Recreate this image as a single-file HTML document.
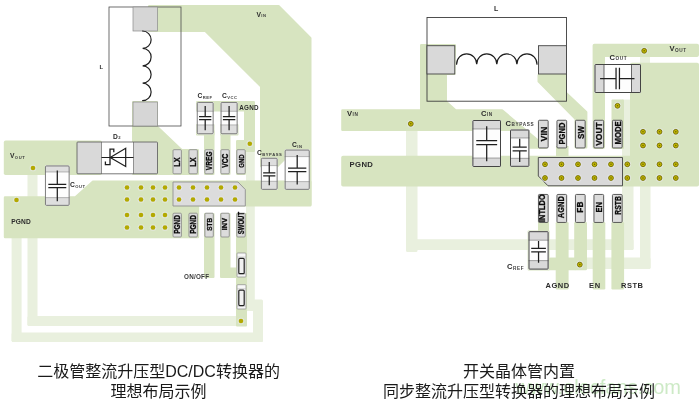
<!DOCTYPE html>
<html lang="zh-CN">
<head>
<meta charset="utf-8">
<title>升压型转换器的理想布局示例</title>
<style>
html,body{margin:0;padding:0;background:#fff;}
body{width:700px;height:404px;overflow:hidden;position:relative;font-family:"Liberation Sans","Noto Sans CJK SC",sans-serif;}
svg{position:absolute;left:0;top:0;display:block;will-change:transform;opacity:0.999;font-family:"Liberation Sans","Noto Sans CJK SC",sans-serif;}
.cap{position:absolute;font-size:16px;line-height:20px;color:#1a1a1a;text-align:center;white-space:nowrap;font-family:"Liberation Sans","Noto Sans CJK SC",sans-serif;}
.wm{position:absolute;right:19px;top:375px;font-size:20px;line-height:24px;color:#cdeac6;white-space:nowrap;}
</style>
</head>
<body>
<svg width="700" height="404" viewBox="0 0 700 404">
<rect x="11.6" y="236" width="10" height="106" fill="#e9f0de" rx="1.5"/>
<rect x="11.6" y="332.5" width="251.4" height="9.5" fill="#e9f0de" rx="1.5"/>
<rect x="253" y="299.5" width="10" height="42.5" fill="#e9f0de" rx="1.5"/>
<rect x="246" y="148" width="8.8" height="163" fill="#e9f0de"/>
<rect x="27.5" y="172" width="10" height="154" fill="#e9f0de" rx="1.5"/>
<rect x="27.5" y="316" width="210.5" height="10" fill="#e9f0de" rx="1.5"/>
<polygon points="149.20,6.20 278.50,6.20 310.30,38.00 310.30,204.80 301.20,204.80 301.20,170.80 286.20,170.80 286.20,157.10 277.00,166.30 261.20,166.30 261.20,86.50 205.50,30.80 149.20,30.80" fill="#d7e4c0" stroke="#d7e4c0" stroke-width="2.4" stroke-linejoin="round"/>
<polygon points="5.00,197.40 75.46,197.40 92.76,181.80 310.30,181.80 310.30,205.20 198.00,205.20 198.00,237.10 5.00,237.10" fill="#d7e4c0" stroke="#d7e4c0" stroke-width="2.4" stroke-linejoin="round"/>
<rect x="3.8" y="140.6" width="98.2" height="34.4" fill="#d7e4c0" rx="1.8"/>
<polygon points="133.20,102.20 156.80,102.20 156.80,126.51 181.52,150.20 197.80,150.20 197.80,173.80 133.20,173.80" fill="#d7e4c0" stroke="#d7e4c0" stroke-width="2.4" stroke-linejoin="round"/>
<polygon points="197.20,102.20 253.80,102.20 253.80,150.80 244.80,150.80 244.80,173.80 237.20,173.80 237.20,141.20 245.20,141.20 245.20,110.30 197.20,110.30" fill="#d7e4c0" stroke="#d7e4c0" stroke-width="2.4" stroke-linejoin="round"/>
<rect x="204" y="130" width="10.5" height="45" fill="#d7e4c0" rx="1"/>
<rect x="220.5" y="130" width="10" height="45" fill="#d7e4c0" rx="1"/>
<rect x="196" y="124" width="18.5" height="11.5" fill="#d7e4c0" rx="1"/>
<rect x="220" y="124" width="18.5" height="11.5" fill="#d7e4c0" rx="1"/>
<rect x="204" y="213" width="10.5" height="65" fill="#d7e4c0" rx="1"/>
<rect x="220" y="213" width="10.5" height="65" fill="#d7e4c0" rx="1"/>
<rect x="228" y="267.5" width="10" height="10.5" fill="#d7e4c0" rx="1"/>
<rect x="236" y="213" width="11" height="113.5" fill="#d7e4c0" rx="1"/>
<rect x="109" y="7" width="72" height="119" fill="none" stroke="#4c4c4c" stroke-width="0.8"/>
<rect x="133" y="7" width="24.5" height="24" fill="#d6d6d6" stroke="#8a8a8a" stroke-width="0.7"/>
<rect x="133" y="102" width="24.5" height="24" fill="#d6d6d6" stroke="#8a8a8a" stroke-width="0.7"/>
<path d="M142.6 31a8.526 8.7 0 0 1 0 17.4a8.526 8.7 0 0 1 0 17.4a8.526 8.7 0 0 1 0 17.4a8.526 8.7 0 0 1 0 17.4" fill="none" stroke="#1e1e1e" stroke-width="1.2" stroke-linecap="round"/>
<rect x="77" y="142" width="80.5" height="31.8" fill="#ffffff" rx="0.8"/>
<rect x="77" y="142" width="24.5" height="31.8" fill="#d9d9d9"/>
<rect x="133.5" y="142" width="24" height="31.8" fill="#d9d9d9"/>
<rect x="77" y="142" width="80.5" height="31.8" fill="none" rx="0.8" stroke="#555" stroke-width="0.8"/>
<path d="M101.5 142V173.8M133.5 142V173.8" stroke="#555" stroke-width="0.6"/>
<path d="M101.5 157.5H133.5" stroke="#1e1e1e" stroke-width="1.2"/>
<path d="M125.7 148.3V166.5L110.2 157.5Z" fill="none" stroke="#1e1e1e" stroke-width="1.2" stroke-linejoin="miter"/>
<path d="M113.8 152.2V149.2H110V164.6H105.4V161.4" fill="none" stroke="#1e1e1e" stroke-width="1.3"/>
<rect x="196.8" y="102" width="16.8" height="32.2" fill="#fdfdfd" rx="1"/>
<rect x="196.8" y="102" width="16.8" height="9.3" fill="#dedede" rx="1"/>
<rect x="196.8" y="124.9" width="16.8" height="9.3" fill="#dedede" rx="1"/>
<path d="M196.8 111.3H213.6M196.8 124.9H213.6" stroke="#6e6e6e" stroke-opacity="0.75" stroke-width="0.6" fill="none"/>
<rect x="197.25" y="102.45" width="15.9" height="31.3" fill="none" rx="1" stroke="#6e6e6e" stroke-width="0.9"/>
<path d="M205.2 106V116.5M205.2 119.5V130.2M199.068 116.5H211.332M199.068 119.5H211.332" stroke="#1e1e1e" stroke-width="1.25" fill="none"/>
<rect x="220.6" y="102" width="17" height="32.2" fill="#fdfdfd" rx="1"/>
<rect x="220.6" y="102" width="17" height="9.3" fill="#dedede" rx="1"/>
<rect x="220.6" y="124.9" width="17" height="9.3" fill="#dedede" rx="1"/>
<path d="M220.6 111.3H237.6M220.6 124.9H237.6" stroke="#6e6e6e" stroke-opacity="0.75" stroke-width="0.6" fill="none"/>
<rect x="221.05" y="102.45" width="16.1" height="31.3" fill="none" rx="1" stroke="#6e6e6e" stroke-width="0.9"/>
<path d="M229.1 106V116.5M229.1 119.5V130.2M222.895 116.5H235.305M222.895 119.5H235.305" stroke="#1e1e1e" stroke-width="1.25" fill="none"/>
<rect x="260.9" y="157.8" width="16.7" height="32" fill="#fdfdfd" rx="1"/>
<rect x="260.9" y="157.8" width="16.7" height="7.8" fill="#dedede" rx="1"/>
<rect x="260.9" y="181.3" width="16.7" height="8.5" fill="#dedede" rx="1"/>
<path d="M260.9 165.6H277.6M260.9 181.3H277.6" stroke="#6e6e6e" stroke-opacity="0.75" stroke-width="0.6" fill="none"/>
<rect x="261.35" y="158.25" width="15.8" height="31.1" fill="none" rx="1" stroke="#6e6e6e" stroke-width="0.9"/>
<path d="M269.25 162V172.85M269.25 175.75V185.3M263.154 172.85H275.346M263.154 175.75H275.346" stroke="#1e1e1e" stroke-width="1.25" fill="none"/>
<rect x="284.7" y="149.6" width="25" height="40.2" fill="#fdfdfd" rx="1"/>
<rect x="284.7" y="149.6" width="25" height="7" fill="#dedede" rx="1"/>
<rect x="284.7" y="181.6" width="25" height="8.2" fill="#dedede" rx="1"/>
<path d="M284.7 156.6H309.7M284.7 181.6H309.7" stroke="#6e6e6e" stroke-opacity="0.75" stroke-width="0.6" fill="none"/>
<rect x="285.15" y="150.05" width="24.1" height="39.3" fill="none" rx="1" stroke="#6e6e6e" stroke-width="0.9"/>
<path d="M297.2 154.9V168.2M297.2 171.6V184.6M288.075 168.2H306.325M288.075 171.6H306.325" stroke="#1e1e1e" stroke-width="1.25" fill="none"/>
<rect x="45" y="165.5" width="24.6" height="40.3" fill="#fdfdfd" rx="1"/>
<rect x="45" y="165.5" width="24.6" height="6.5" fill="#dedede" rx="1"/>
<rect x="45" y="197.6" width="24.6" height="8.2" fill="#dedede" rx="1"/>
<path d="M45 172H69.6M45 197.6H69.6" stroke="#6e6e6e" stroke-opacity="0.75" stroke-width="0.6" fill="none"/>
<rect x="45.45" y="165.95" width="23.7" height="39.4" fill="none" rx="1" stroke="#6e6e6e" stroke-width="0.9"/>
<path d="M57.3 170.5V184.25M57.3 187.55V201.2M48.321 184.25H66.279M48.321 187.55H66.279" stroke="#1e1e1e" stroke-width="1.25" fill="none"/>
<polygon points="173.00,182.00 238.00,182.00 245.30,189.50 245.30,206.00 173.00,206.00" fill="#dcdcdc" stroke="#909090" stroke-width="0.9" stroke-linejoin="round"/>
<circle cx="179" cy="187.5" r="3.5" fill="#e9e9ee" opacity="0.5"/>
<circle cx="179" cy="187.5" r="2.3" fill="#b3a900"/>
<circle cx="179" cy="199.5" r="3.5" fill="#e9e9ee" opacity="0.5"/>
<circle cx="179" cy="199.5" r="2.3" fill="#b3a900"/>
<circle cx="193" cy="187.5" r="3.5" fill="#e9e9ee" opacity="0.5"/>
<circle cx="193" cy="187.5" r="2.3" fill="#b3a900"/>
<circle cx="193" cy="199.5" r="3.5" fill="#e9e9ee" opacity="0.5"/>
<circle cx="193" cy="199.5" r="2.3" fill="#b3a900"/>
<circle cx="207" cy="187.5" r="3.5" fill="#e9e9ee" opacity="0.5"/>
<circle cx="207" cy="187.5" r="2.3" fill="#b3a900"/>
<circle cx="207" cy="199.5" r="3.5" fill="#e9e9ee" opacity="0.5"/>
<circle cx="207" cy="199.5" r="2.3" fill="#b3a900"/>
<circle cx="221" cy="187.5" r="3.5" fill="#e9e9ee" opacity="0.5"/>
<circle cx="221" cy="187.5" r="2.3" fill="#b3a900"/>
<circle cx="221" cy="199.5" r="3.5" fill="#e9e9ee" opacity="0.5"/>
<circle cx="221" cy="199.5" r="2.3" fill="#b3a900"/>
<circle cx="235" cy="187.5" r="3.5" fill="#e9e9ee" opacity="0.5"/>
<circle cx="235" cy="187.5" r="2.3" fill="#b3a900"/>
<circle cx="235" cy="199.5" r="3.5" fill="#e9e9ee" opacity="0.5"/>
<circle cx="235" cy="199.5" r="2.3" fill="#b3a900"/>
<circle cx="127" cy="187.5" r="3.5" fill="#e9e9ee" opacity="0.5"/>
<circle cx="127" cy="187.5" r="2.3" fill="#b3a900"/>
<circle cx="127" cy="199.5" r="3.5" fill="#e9e9ee" opacity="0.5"/>
<circle cx="127" cy="199.5" r="2.3" fill="#b3a900"/>
<circle cx="127" cy="215" r="3.5" fill="#e9e9ee" opacity="0.5"/>
<circle cx="127" cy="215" r="2.3" fill="#b3a900"/>
<circle cx="127" cy="227.5" r="3.5" fill="#e9e9ee" opacity="0.5"/>
<circle cx="127" cy="227.5" r="2.3" fill="#b3a900"/>
<circle cx="141" cy="187.5" r="3.5" fill="#e9e9ee" opacity="0.5"/>
<circle cx="141" cy="187.5" r="2.3" fill="#b3a900"/>
<circle cx="141" cy="199.5" r="3.5" fill="#e9e9ee" opacity="0.5"/>
<circle cx="141" cy="199.5" r="2.3" fill="#b3a900"/>
<circle cx="141" cy="215" r="3.5" fill="#e9e9ee" opacity="0.5"/>
<circle cx="141" cy="215" r="2.3" fill="#b3a900"/>
<circle cx="141" cy="227.5" r="3.5" fill="#e9e9ee" opacity="0.5"/>
<circle cx="141" cy="227.5" r="2.3" fill="#b3a900"/>
<circle cx="153" cy="187.5" r="3.5" fill="#e9e9ee" opacity="0.5"/>
<circle cx="153" cy="187.5" r="2.3" fill="#b3a900"/>
<circle cx="153" cy="199.5" r="3.5" fill="#e9e9ee" opacity="0.5"/>
<circle cx="153" cy="199.5" r="2.3" fill="#b3a900"/>
<circle cx="153" cy="215" r="3.5" fill="#e9e9ee" opacity="0.5"/>
<circle cx="153" cy="215" r="2.3" fill="#b3a900"/>
<circle cx="153" cy="227.5" r="3.5" fill="#e9e9ee" opacity="0.5"/>
<circle cx="153" cy="227.5" r="2.3" fill="#b3a900"/>
<circle cx="165" cy="187.5" r="3.5" fill="#e9e9ee" opacity="0.5"/>
<circle cx="165" cy="187.5" r="2.3" fill="#b3a900"/>
<circle cx="165" cy="199.5" r="3.5" fill="#e9e9ee" opacity="0.5"/>
<circle cx="165" cy="199.5" r="2.3" fill="#b3a900"/>
<circle cx="165" cy="215" r="3.5" fill="#e9e9ee" opacity="0.5"/>
<circle cx="165" cy="215" r="2.3" fill="#b3a900"/>
<circle cx="165" cy="227.5" r="3.5" fill="#e9e9ee" opacity="0.5"/>
<circle cx="165" cy="227.5" r="2.3" fill="#b3a900"/>
<circle cx="33" cy="168" r="3.5" fill="#e9e9ee" opacity="0.5"/>
<circle cx="33" cy="168" r="2.3" fill="#b3a900"/>
<circle cx="16.5" cy="200" r="3.5" fill="#e9e9ee" opacity="0.5"/>
<circle cx="16.5" cy="200" r="2.3" fill="#b3a900"/>
<circle cx="249.8" cy="143.8" r="3.5" fill="#e9e9ee" opacity="0.5"/>
<circle cx="249.8" cy="143.8" r="2.3" fill="#b3a900"/>
<circle cx="241" cy="321" r="3.5" fill="#e9e9ee" opacity="0.5"/>
<circle cx="241" cy="321" r="2.3" fill="#b3a900"/>
<rect x="173" y="149.7" width="8.4" height="24.1" fill="#dcdcdc" rx="1" stroke="#858585" stroke-width="0.8"/>
<text transform="translate(180.243,162.05) rotate(-90)" font-size="8.5" font-weight="bold" text-anchor="middle" textLength="9.3" lengthAdjust="spacingAndGlyphs" fill="#0c0c0c" stroke="#0c0c0c" stroke-width="0.3" stroke-linejoin="round">LX</text>
<rect x="188.95" y="149.7" width="8.4" height="24.1" fill="#dcdcdc" rx="1" stroke="#858585" stroke-width="0.8"/>
<text transform="translate(196.193,162.05) rotate(-90)" font-size="8.5" font-weight="bold" text-anchor="middle" textLength="9.3" lengthAdjust="spacingAndGlyphs" fill="#0c0c0c" stroke="#0c0c0c" stroke-width="0.3" stroke-linejoin="round">LX</text>
<rect x="204.9" y="149.7" width="8.4" height="24.1" fill="#dcdcdc" rx="1" stroke="#858585" stroke-width="0.8"/>
<text transform="translate(212.322,160.75) rotate(-90)" font-size="9" font-weight="bold" text-anchor="middle" textLength="18.8" lengthAdjust="spacingAndGlyphs" fill="#0c0c0c" stroke="#0c0c0c" stroke-width="0.3" stroke-linejoin="round">VREG</text>
<rect x="220.85" y="149.7" width="8.4" height="24.1" fill="#dcdcdc" rx="1" stroke="#858585" stroke-width="0.8"/>
<text transform="translate(227.986,160.75) rotate(-90)" font-size="8.2" font-weight="bold" text-anchor="middle" textLength="14" lengthAdjust="spacingAndGlyphs" fill="#0c0c0c" stroke="#0c0c0c" stroke-width="0.3" stroke-linejoin="round">VCC</text>
<rect x="236.8" y="149.7" width="8.4" height="24.1" fill="#dcdcdc" rx="1" stroke="#858585" stroke-width="0.8"/>
<text transform="translate(243.864,161.05) rotate(-90)" font-size="8" font-weight="bold" text-anchor="middle" textLength="13.3" lengthAdjust="spacingAndGlyphs" fill="#0c0c0c" stroke="#0c0c0c" stroke-width="0.3" stroke-linejoin="round">GND</text>
<rect x="173" y="213.2" width="8.4" height="23.8" fill="#dcdcdc" rx="1" stroke="#858585" stroke-width="0.8"/>
<text transform="translate(180.243,224.4) rotate(-90)" font-size="8.5" font-weight="bold" text-anchor="middle" textLength="18.8" lengthAdjust="spacingAndGlyphs" fill="#0c0c0c" stroke="#0c0c0c" stroke-width="0.3" stroke-linejoin="round">PGND</text>
<rect x="188.95" y="213.2" width="8.4" height="23.8" fill="#dcdcdc" rx="1" stroke="#858585" stroke-width="0.8"/>
<text transform="translate(196.193,224.4) rotate(-90)" font-size="8.5" font-weight="bold" text-anchor="middle" textLength="18.8" lengthAdjust="spacingAndGlyphs" fill="#0c0c0c" stroke="#0c0c0c" stroke-width="0.3" stroke-linejoin="round">PGND</text>
<rect x="204.9" y="213.2" width="8.4" height="23.8" fill="#dcdcdc" rx="1" stroke="#858585" stroke-width="0.8"/>
<text transform="translate(211.606,224.4) rotate(-90)" font-size="7" font-weight="bold" text-anchor="middle" textLength="12.8" lengthAdjust="spacingAndGlyphs" fill="#0c0c0c" stroke="#0c0c0c" stroke-width="0.3" stroke-linejoin="round">STB</text>
<rect x="220.85" y="213.2" width="8.4" height="23.8" fill="#dcdcdc" rx="1" stroke="#858585" stroke-width="0.8"/>
<text transform="translate(227.484,224.1) rotate(-90)" font-size="6.8" font-weight="bold" text-anchor="middle" textLength="12.3" lengthAdjust="spacingAndGlyphs" fill="#0c0c0c" stroke="#0c0c0c" stroke-width="0.3" stroke-linejoin="round">INV</text>
<rect x="236.8" y="213.2" width="8.4" height="23.8" fill="#dcdcdc" rx="1" stroke="#858585" stroke-width="0.8"/>
<text transform="translate(243.936,223.1) rotate(-90)" font-size="8.2" font-weight="bold" text-anchor="middle" textLength="22.3" lengthAdjust="spacingAndGlyphs" fill="#0c0c0c" stroke="#0c0c0c" stroke-width="0.3" stroke-linejoin="round">SWOUT</text>
<rect x="237" y="253" width="9" height="24" fill="#f7f7f7" rx="0.8" stroke="#8a8a8a" stroke-width="0.7"/>
<path d="M237 257.08H246M237 274.12H246" stroke="#aaa" stroke-width="0.5"/>
<rect x="238.8" y="258.28" width="5.4" height="15.36" fill="#f1f1f1" rx="1" stroke="#222" stroke-width="1.2"/>
<rect x="237" y="284.7" width="9" height="24.3" fill="#f7f7f7" rx="0.8" stroke="#8a8a8a" stroke-width="0.7"/>
<path d="M237 288.831H246M237 306.084H246" stroke="#aaa" stroke-width="0.5"/>
<rect x="238.8" y="290.046" width="5.4" height="15.552" fill="#f1f1f1" rx="1" stroke="#222" stroke-width="1.2"/>
<text x="99.5" y="69" font-size="6" font-weight="bold" fill="#2b2b2b" text-anchor="start" letter-spacing="0.2">L</text>
<text x="256.5" y="16.5" font-size="6.7" font-weight="bold" fill="#2b2b2b" text-anchor="start" letter-spacing="0.2">V<tspan font-size="4.154" dy="0.536" dx="0.2" font-weight="bold" fill="#3c3c3c" letter-spacing="0.5695">IN</tspan></text>
<text x="113" y="138.5" font-size="6.7" font-weight="bold" fill="#2b2b2b" text-anchor="start" letter-spacing="0.2">D<tspan font-size="4.154" dy="0.536" dx="0.2" font-weight="bold" fill="#3c3c3c" letter-spacing="0.5695">2</tspan></text>
<text x="197.5" y="98" font-size="6.7" font-weight="bold" fill="#2b2b2b" text-anchor="start" letter-spacing="0.2">C<tspan font-size="4.154" dy="0.536" dx="0.2" font-weight="bold" fill="#3c3c3c" letter-spacing="0.5695">REF</tspan></text>
<text x="222" y="98" font-size="6.7" font-weight="bold" fill="#2b2b2b" text-anchor="start" letter-spacing="0.2">C<tspan font-size="4.154" dy="0.536" dx="0.2" font-weight="bold" fill="#3c3c3c" letter-spacing="0.5695">VCC</tspan></text>
<text x="239.2" y="110" font-size="6.3" font-weight="bold" fill="#2b2b2b" text-anchor="start" letter-spacing="0.3">AGND</text>
<text x="257" y="155" font-size="6.7" font-weight="bold" fill="#2b2b2b" text-anchor="start" letter-spacing="0.2">C<tspan font-size="4.154" dy="0.536" dx="0.2" font-weight="bold" fill="#3c3c3c" letter-spacing="0.5695">BYPASS</tspan></text>
<text x="292" y="147" font-size="6.7" font-weight="bold" fill="#2b2b2b" text-anchor="start" letter-spacing="0.2">C<tspan font-size="4.154" dy="0.536" dx="0.2" font-weight="bold" fill="#3c3c3c" letter-spacing="0.5695">IN</tspan></text>
<text x="10" y="158" font-size="6.7" font-weight="bold" fill="#2b2b2b" text-anchor="start" letter-spacing="0.2">V<tspan font-size="4.154" dy="0.536" dx="0.2" font-weight="bold" fill="#3c3c3c" letter-spacing="0.5695">OUT</tspan></text>
<text x="70" y="187" font-size="6.7" font-weight="bold" fill="#2b2b2b" text-anchor="start" letter-spacing="0.2">C<tspan font-size="4.154" dy="0.536" dx="0.2" font-weight="bold" fill="#3c3c3c" letter-spacing="0.5695">OUT</tspan></text>
<text x="11.2" y="223.6" font-size="6.6" font-weight="bold" fill="#2b2b2b" text-anchor="start" letter-spacing="0.2">PGND</text>
<text x="184" y="279.4" font-size="6.3" font-weight="bold" fill="#3a3a3a" text-anchor="start" letter-spacing="0.25">ON/OFF</text>
<rect x="406" y="129" width="11.5" height="123" fill="#e9f0de" rx="1.5"/>
<rect x="406" y="239.2" width="227.5" height="10.8" fill="#e9f0de" rx="1.5"/>
<rect x="622" y="185" width="11.5" height="65" fill="#e9f0de" rx="1.5"/>
<rect x="622" y="99.6" width="8.5" height="58.4" fill="#e9f0de"/>
<rect x="549" y="257.5" width="101.5" height="11.5" fill="#e9f0de" rx="1.5"/>
<rect x="640" y="185" width="10.5" height="84" fill="#e9f0de" rx="1.5"/>
<rect x="640" y="56" width="10" height="7" fill="#e9f0de"/>
<polygon points="342.40,110.50 421.20,110.50 421.20,45.20 454.78,45.20 454.32,73.80 445.80,73.80 445.80,101.53 455.53,110.50 502.06,110.50 546.20,147.50 521.20,147.50 521.20,129.80 342.40,129.80" fill="#d7e4c0" stroke="#d7e4c0" stroke-width="2.4" stroke-linejoin="round"/>
<polygon points="343.00,157.60 631.80,157.60 631.80,64.50 697.20,64.50 697.20,184.80 343.00,184.80" fill="#d7e4c0" stroke="#d7e4c0" stroke-width="3.6" stroke-linejoin="round"/>
<polygon points="594.40,45.60 697.20,45.60 697.20,55.10 603.20,55.10 603.20,147.20 594.40,147.20" fill="#d7e4c0" stroke="#d7e4c0" stroke-width="3.6" stroke-linejoin="round"/>
<rect x="556" y="146" width="12.5" height="12" fill="#d7e4c0"/>
<polygon points="538.70,75.20 565.80,75.20 565.80,92.82 586.20,112.02 586.20,147.30 575.70,147.30 575.70,119.01 538.70,81.51" fill="#d7e4c0" stroke="#d7e4c0" stroke-width="2.4" stroke-linejoin="round"/>
<rect x="611.5" y="99.6" width="12.5" height="49.4" fill="#d7e4c0" rx="1"/>
<rect x="538" y="222" width="11" height="13" fill="#d7e4c0"/>
<rect x="555.7" y="222" width="12.9" height="67.5" fill="#d7e4c0" rx="1.2"/>
<rect x="574.2" y="222" width="12.8" height="48.3" fill="#d7e4c0" rx="1.2"/>
<rect x="592.7" y="222" width="12.6" height="67.5" fill="#d7e4c0" rx="1.2"/>
<rect x="611.4" y="222" width="12.7" height="67.5" fill="#d7e4c0" rx="1.2"/>
<rect x="548" y="257.8" width="28" height="12.5" fill="#d7e4c0" rx="1"/>
<rect x="527.6" y="230.4" width="22" height="40.1" fill="#d7e4c0" rx="1"/>
<rect x="427" y="17.5" width="139.5" height="83.7" fill="none" stroke="#3c3c3c" stroke-width="0.9"/>
<rect x="427" y="45.7" width="27.8" height="28.3" fill="#d9d9d9" stroke="#444" stroke-width="0.9"/>
<rect x="538.5" y="45.7" width="28" height="28.3" fill="#d9d9d9" stroke="#444" stroke-width="0.9"/>
<path d="M456.6 64.2a10.05 10.251 0 0 1 20.1 0a10.05 10.251 0 0 1 20.1 0a10.05 10.251 0 0 1 20.1 0a10.05 10.251 0 0 1 20.1 0" fill="none" stroke="#1e1e1e" stroke-width="1.2" stroke-linecap="round"/>
<rect x="472.4" y="120" width="28.6" height="47" fill="#fdfdfd" rx="0.6"/>
<rect x="472.4" y="120" width="28.6" height="9" fill="#d9d9d9" rx="0.6"/>
<rect x="472.4" y="158" width="28.6" height="9" fill="#d9d9d9" rx="0.6"/>
<path d="M472.4 129H501M472.4 158H501" stroke="#444" stroke-opacity="0.75" stroke-width="0.6" fill="none"/>
<rect x="472.9" y="120.5" width="27.6" height="46" fill="none" rx="0.6" stroke="#444" stroke-width="1"/>
<path d="M486.7 126.3V140.7M486.7 144.5V161.3M476.261 140.7H497.139M476.261 144.5H497.139" stroke="#1e1e1e" stroke-width="1.25" fill="none"/>
<rect x="510" y="129.5" width="19.4" height="37.3" fill="#fdfdfd" rx="0.6"/>
<rect x="510" y="129.5" width="19.4" height="8.5" fill="#d9d9d9" rx="0.6"/>
<rect x="510" y="158.3" width="19.4" height="8.5" fill="#d9d9d9" rx="0.6"/>
<path d="M510 138H529.4M510 158.3H529.4" stroke="#444" stroke-opacity="0.75" stroke-width="0.6" fill="none"/>
<rect x="510.5" y="130" width="18.4" height="36.3" fill="none" rx="0.6" stroke="#444" stroke-width="1"/>
<path d="M519.7 138.8V147M519.7 150.8V162M512.619 147H526.781M512.619 150.8H526.781" stroke="#1e1e1e" stroke-width="1.25" fill="none"/>
<rect x="594.5" y="64" width="46.5" height="29" fill="#fdfdfd" rx="0.6"/>
<rect x="594.5" y="64" width="9.5" height="29" fill="#d9d9d9" rx="0.6"/>
<rect x="631.5" y="64" width="9.5" height="29" fill="#d9d9d9" rx="0.6"/>
<path d="M604 64V93M631.5 64V93" stroke="#444" stroke-width="0.8" fill="none"/>
<rect x="595" y="64.5" width="45.5" height="28" fill="none" rx="0.6" stroke="#444" stroke-width="1"/>
<path d="M600.08 78.5H616.05M619.45 78.5H634.49M616.05 67.77V89.23M619.45 67.77V89.23" stroke="#1e1e1e" stroke-width="1.25" fill="none"/>
<rect x="528.5" y="231.2" width="20.1" height="38.4" fill="#fdfdfd" rx="0.6"/>
<rect x="528.5" y="231.2" width="20.1" height="9" fill="#d9d9d9" rx="0.6"/>
<rect x="528.5" y="260.6" width="20.1" height="9" fill="#d9d9d9" rx="0.6"/>
<path d="M528.5 240.2H548.6M528.5 260.6H548.6" stroke="#444" stroke-opacity="0.75" stroke-width="0.6" fill="none"/>
<rect x="529" y="231.7" width="19.1" height="37.4" fill="none" rx="0.6" stroke="#444" stroke-width="1"/>
<path d="M538.55 241V248.45M538.55 251.95V262.7M531.213 248.45H545.886M531.213 251.95H545.886" stroke="#1e1e1e" stroke-width="1.25" fill="none"/>
<polygon points="538.30,157.50 622.50,157.50 622.50,185.80 548.00,185.80 538.30,176.00" fill="#d9d9d9" stroke="#444" stroke-width="0.9" stroke-linejoin="round"/>
<circle cx="545" cy="164.3" r="3.9" fill="#e9e9ee" opacity="0.5"/>
<circle cx="545" cy="164.3" r="2.4" fill="#c3b700" stroke="#726c00" stroke-width="0.9"/>
<circle cx="545" cy="164.3" r="0.8" fill="#6e6800"/>
<circle cx="545" cy="178" r="3.9" fill="#e9e9ee" opacity="0.5"/>
<circle cx="545" cy="178" r="2.4" fill="#c3b700" stroke="#726c00" stroke-width="0.9"/>
<circle cx="545" cy="178" r="0.8" fill="#6e6800"/>
<circle cx="561.5" cy="164.3" r="3.9" fill="#e9e9ee" opacity="0.5"/>
<circle cx="561.5" cy="164.3" r="2.4" fill="#c3b700" stroke="#726c00" stroke-width="0.9"/>
<circle cx="561.5" cy="164.3" r="0.8" fill="#6e6800"/>
<circle cx="561.5" cy="178" r="3.9" fill="#e9e9ee" opacity="0.5"/>
<circle cx="561.5" cy="178" r="2.4" fill="#c3b700" stroke="#726c00" stroke-width="0.9"/>
<circle cx="561.5" cy="178" r="0.8" fill="#6e6800"/>
<circle cx="578" cy="164.3" r="3.9" fill="#e9e9ee" opacity="0.5"/>
<circle cx="578" cy="164.3" r="2.4" fill="#c3b700" stroke="#726c00" stroke-width="0.9"/>
<circle cx="578" cy="164.3" r="0.8" fill="#6e6800"/>
<circle cx="578" cy="178" r="3.9" fill="#e9e9ee" opacity="0.5"/>
<circle cx="578" cy="178" r="2.4" fill="#c3b700" stroke="#726c00" stroke-width="0.9"/>
<circle cx="578" cy="178" r="0.8" fill="#6e6800"/>
<circle cx="594.5" cy="164.3" r="3.9" fill="#e9e9ee" opacity="0.5"/>
<circle cx="594.5" cy="164.3" r="2.4" fill="#c3b700" stroke="#726c00" stroke-width="0.9"/>
<circle cx="594.5" cy="164.3" r="0.8" fill="#6e6800"/>
<circle cx="594.5" cy="178" r="3.9" fill="#e9e9ee" opacity="0.5"/>
<circle cx="594.5" cy="178" r="2.4" fill="#c3b700" stroke="#726c00" stroke-width="0.9"/>
<circle cx="594.5" cy="178" r="0.8" fill="#6e6800"/>
<circle cx="611" cy="164.3" r="3.9" fill="#e9e9ee" opacity="0.5"/>
<circle cx="611" cy="164.3" r="2.4" fill="#c3b700" stroke="#726c00" stroke-width="0.9"/>
<circle cx="611" cy="164.3" r="0.8" fill="#6e6800"/>
<circle cx="611" cy="178" r="3.9" fill="#e9e9ee" opacity="0.5"/>
<circle cx="611" cy="178" r="2.4" fill="#c3b700" stroke="#726c00" stroke-width="0.9"/>
<circle cx="611" cy="178" r="0.8" fill="#6e6800"/>
<circle cx="643" cy="131.8" r="3.9" fill="#e9e9ee" opacity="0.5"/>
<circle cx="643" cy="131.8" r="2.4" fill="#c3b700" stroke="#726c00" stroke-width="0.9"/>
<circle cx="643" cy="131.8" r="0.8" fill="#6e6800"/>
<circle cx="643" cy="145.5" r="3.9" fill="#e9e9ee" opacity="0.5"/>
<circle cx="643" cy="145.5" r="2.4" fill="#c3b700" stroke="#726c00" stroke-width="0.9"/>
<circle cx="643" cy="145.5" r="0.8" fill="#6e6800"/>
<circle cx="643" cy="164.3" r="3.9" fill="#e9e9ee" opacity="0.5"/>
<circle cx="643" cy="164.3" r="2.4" fill="#c3b700" stroke="#726c00" stroke-width="0.9"/>
<circle cx="643" cy="164.3" r="0.8" fill="#6e6800"/>
<circle cx="643" cy="178" r="3.9" fill="#e9e9ee" opacity="0.5"/>
<circle cx="643" cy="178" r="2.4" fill="#c3b700" stroke="#726c00" stroke-width="0.9"/>
<circle cx="643" cy="178" r="0.8" fill="#6e6800"/>
<circle cx="659.5" cy="131.8" r="3.9" fill="#e9e9ee" opacity="0.5"/>
<circle cx="659.5" cy="131.8" r="2.4" fill="#c3b700" stroke="#726c00" stroke-width="0.9"/>
<circle cx="659.5" cy="131.8" r="0.8" fill="#6e6800"/>
<circle cx="659.5" cy="145.5" r="3.9" fill="#e9e9ee" opacity="0.5"/>
<circle cx="659.5" cy="145.5" r="2.4" fill="#c3b700" stroke="#726c00" stroke-width="0.9"/>
<circle cx="659.5" cy="145.5" r="0.8" fill="#6e6800"/>
<circle cx="659.5" cy="164.3" r="3.9" fill="#e9e9ee" opacity="0.5"/>
<circle cx="659.5" cy="164.3" r="2.4" fill="#c3b700" stroke="#726c00" stroke-width="0.9"/>
<circle cx="659.5" cy="164.3" r="0.8" fill="#6e6800"/>
<circle cx="659.5" cy="178" r="3.9" fill="#e9e9ee" opacity="0.5"/>
<circle cx="659.5" cy="178" r="2.4" fill="#c3b700" stroke="#726c00" stroke-width="0.9"/>
<circle cx="659.5" cy="178" r="0.8" fill="#6e6800"/>
<circle cx="675.8" cy="131.8" r="3.9" fill="#e9e9ee" opacity="0.5"/>
<circle cx="675.8" cy="131.8" r="2.4" fill="#c3b700" stroke="#726c00" stroke-width="0.9"/>
<circle cx="675.8" cy="131.8" r="0.8" fill="#6e6800"/>
<circle cx="675.8" cy="145.5" r="3.9" fill="#e9e9ee" opacity="0.5"/>
<circle cx="675.8" cy="145.5" r="2.4" fill="#c3b700" stroke="#726c00" stroke-width="0.9"/>
<circle cx="675.8" cy="145.5" r="0.8" fill="#6e6800"/>
<circle cx="675.8" cy="164.3" r="3.9" fill="#e9e9ee" opacity="0.5"/>
<circle cx="675.8" cy="164.3" r="2.4" fill="#c3b700" stroke="#726c00" stroke-width="0.9"/>
<circle cx="675.8" cy="164.3" r="0.8" fill="#6e6800"/>
<circle cx="675.8" cy="178" r="3.9" fill="#e9e9ee" opacity="0.5"/>
<circle cx="675.8" cy="178" r="2.4" fill="#c3b700" stroke="#726c00" stroke-width="0.9"/>
<circle cx="675.8" cy="178" r="0.8" fill="#6e6800"/>
<circle cx="627.3" cy="164.3" r="3.9" fill="#e9e9ee" opacity="0.5"/>
<circle cx="627.3" cy="164.3" r="2.4" fill="#c3b700" stroke="#726c00" stroke-width="0.9"/>
<circle cx="627.3" cy="164.3" r="0.8" fill="#6e6800"/>
<circle cx="627.3" cy="178" r="3.9" fill="#e9e9ee" opacity="0.5"/>
<circle cx="627.3" cy="178" r="2.4" fill="#c3b700" stroke="#726c00" stroke-width="0.9"/>
<circle cx="627.3" cy="178" r="0.8" fill="#6e6800"/>
<circle cx="644.2" cy="50.8" r="3.9" fill="#e9e9ee" opacity="0.5"/>
<circle cx="644.2" cy="50.8" r="2.4" fill="#c3b700" stroke="#726c00" stroke-width="0.9"/>
<circle cx="644.2" cy="50.8" r="0.8" fill="#6e6800"/>
<circle cx="617.5" cy="105.8" r="3.9" fill="#e9e9ee" opacity="0.5"/>
<circle cx="617.5" cy="105.8" r="2.4" fill="#c3b700" stroke="#726c00" stroke-width="0.9"/>
<circle cx="617.5" cy="105.8" r="0.8" fill="#6e6800"/>
<circle cx="410.8" cy="123.8" r="3.9" fill="#e9e9ee" opacity="0.5"/>
<circle cx="410.8" cy="123.8" r="2.4" fill="#c3b700" stroke="#726c00" stroke-width="0.9"/>
<circle cx="410.8" cy="123.8" r="0.8" fill="#6e6800"/>
<circle cx="579.8" cy="264.6" r="3.9" fill="#e9e9ee" opacity="0.5"/>
<circle cx="579.8" cy="264.6" r="2.4" fill="#c3b700" stroke="#726c00" stroke-width="0.9"/>
<circle cx="579.8" cy="264.6" r="0.8" fill="#6e6800"/>
<rect x="538.45" y="120.25" width="9.7" height="27.7" fill="#dcdcdc" rx="1" stroke="#4a4a4a" stroke-width="0.9"/>
<text transform="translate(546.737,134.1) rotate(-90)" font-size="9.6" font-weight="bold" text-anchor="middle" textLength="14.8" lengthAdjust="spacingAndGlyphs" fill="#0c0c0c" stroke="#0c0c0c" stroke-width="0.3" stroke-linejoin="round">VIN</text>
<rect x="556.95" y="120.25" width="9.7" height="27.7" fill="#dcdcdc" rx="1" stroke="#4a4a4a" stroke-width="0.9"/>
<text transform="translate(564.771,133.5) rotate(-90)" font-size="8.3" font-weight="bold" text-anchor="middle" textLength="22" lengthAdjust="spacingAndGlyphs" fill="#0c0c0c" stroke="#0c0c0c" stroke-width="0.3" stroke-linejoin="round">PGND</text>
<rect x="575.45" y="120.25" width="9.7" height="27.7" fill="#dcdcdc" rx="1" stroke="#4a4a4a" stroke-width="0.9"/>
<text transform="translate(583.522,132.5) rotate(-90)" font-size="9" font-weight="bold" text-anchor="middle" textLength="13" lengthAdjust="spacingAndGlyphs" fill="#0c0c0c" stroke="#0c0c0c" stroke-width="0.3" stroke-linejoin="round">SW</text>
<rect x="593.95" y="120.25" width="9.7" height="27.7" fill="#dcdcdc" rx="1" stroke="#4a4a4a" stroke-width="0.9"/>
<text transform="translate(602.308,134.1) rotate(-90)" font-size="9.8" font-weight="bold" text-anchor="middle" textLength="23.4" lengthAdjust="spacingAndGlyphs" fill="#0c0c0c" stroke="#0c0c0c" stroke-width="0.3" stroke-linejoin="round">VOUT</text>
<rect x="612.45" y="120.25" width="9.7" height="27.7" fill="#dcdcdc" rx="1" stroke="#4a4a4a" stroke-width="0.9"/>
<text transform="translate(620.737,132.9) rotate(-90)" font-size="9.6" font-weight="bold" text-anchor="middle" textLength="23.3" lengthAdjust="spacingAndGlyphs" fill="#0c0c0c" stroke="#0c0c0c" stroke-width="0.3" stroke-linejoin="round">MODE</text>
<rect x="538.45" y="194.45" width="9.7" height="28" fill="#dcdcdc" rx="1" stroke="#4a4a4a" stroke-width="0.9"/>
<text transform="translate(544.936,208.15) rotate(-90)" font-size="8.2" font-weight="bold" text-anchor="middle" textLength="27.6" lengthAdjust="spacingAndGlyphs" fill="#0c0c0c" stroke="#0c0c0c" stroke-width="0.3" stroke-linejoin="round">INTLDO</text>
<rect x="556.95" y="194.45" width="9.7" height="28" fill="#dcdcdc" rx="1" stroke="#4a4a4a" stroke-width="0.9"/>
<text transform="translate(563.95,207.15) rotate(-90)" font-size="8.8" font-weight="bold" text-anchor="middle" textLength="22" lengthAdjust="spacingAndGlyphs" fill="#0c0c0c" stroke="#0c0c0c" stroke-width="0.3" stroke-linejoin="round">AGND</text>
<rect x="575.45" y="194.45" width="9.7" height="28" fill="#dcdcdc" rx="1" stroke="#4a4a4a" stroke-width="0.9"/>
<text transform="translate(582.579,207.15) rotate(-90)" font-size="8.6" font-weight="bold" text-anchor="middle" textLength="11" lengthAdjust="spacingAndGlyphs" fill="#0c0c0c" stroke="#0c0c0c" stroke-width="0.3" stroke-linejoin="round">FB</text>
<rect x="593.95" y="194.45" width="9.7" height="28" fill="#dcdcdc" rx="1" stroke="#4a4a4a" stroke-width="0.9"/>
<text transform="translate(601.55,207.25) rotate(-90)" font-size="8.8" font-weight="bold" text-anchor="middle" textLength="10.6" lengthAdjust="spacingAndGlyphs" fill="#0c0c0c" stroke="#0c0c0c" stroke-width="0.3" stroke-linejoin="round">EN</text>
<rect x="612.45" y="194.45" width="9.7" height="28" fill="#dcdcdc" rx="1" stroke="#4a4a4a" stroke-width="0.9"/>
<text transform="translate(620.522,205.45) rotate(-90)" font-size="9" font-weight="bold" text-anchor="middle" textLength="18.5" lengthAdjust="spacingAndGlyphs" fill="#0c0c0c" stroke="#0c0c0c" stroke-width="0.3" stroke-linejoin="round">RSTB</text>
<text x="494" y="11.3" font-size="7" font-weight="bold" fill="#2b2b2b" text-anchor="start" letter-spacing="0.2">L</text>
<text x="347" y="115.5" font-size="7.6" font-weight="bold" fill="#2b2b2b" text-anchor="start" letter-spacing="0.2">V<tspan font-size="4.712" dy="0.608" dx="0.2" font-weight="bold" fill="#3c3c3c" letter-spacing="0.646">IN</tspan></text>
<text x="349.5" y="166.6" font-size="7.7" font-weight="bold" fill="#2b2b2b" text-anchor="start" letter-spacing="0.4">PGND</text>
<text x="481" y="115.5" font-size="7.6" font-weight="bold" fill="#2b2b2b" text-anchor="start" letter-spacing="0.2">C<tspan font-size="4.712" dy="0.608" dx="0.2" font-weight="bold" fill="#3c3c3c" letter-spacing="0.646">IN</tspan></text>
<text x="505.5" y="125.5" font-size="7.6" font-weight="bold" fill="#2b2b2b" text-anchor="start" letter-spacing="0.2">C<tspan font-size="4.712" dy="0.608" dx="0.2" font-weight="bold" fill="#3c3c3c" letter-spacing="0.646">BYPASS</tspan></text>
<text x="609.6" y="59.6" font-size="7.6" font-weight="bold" fill="#2b2b2b" text-anchor="start" letter-spacing="0.2">C<tspan font-size="4.712" dy="0.608" dx="0.2" font-weight="bold" fill="#3c3c3c" letter-spacing="0.646">OUT</tspan></text>
<text x="669.5" y="51" font-size="7.6" font-weight="bold" fill="#2b2b2b" text-anchor="start" letter-spacing="0.2">V<tspan font-size="4.712" dy="0.608" dx="0.2" font-weight="bold" fill="#3c3c3c" letter-spacing="0.646">OUT</tspan></text>
<text x="507" y="269" font-size="7.6" font-weight="bold" fill="#2b2b2b" text-anchor="start" letter-spacing="0.2">C<tspan font-size="4.712" dy="0.608" dx="0.2" font-weight="bold" fill="#3c3c3c" letter-spacing="0.646">REF</tspan></text>
<text x="545.5" y="288" font-size="7.5" font-weight="bold" fill="#2b2b2b" text-anchor="start" letter-spacing="0.5">AGND</text>
<text x="589" y="288" font-size="7.5" font-weight="bold" fill="#2b2b2b" text-anchor="start" letter-spacing="0.8">EN</text>
<text x="621" y="288" font-size="7.5" font-weight="bold" fill="#2b2b2b" text-anchor="start" letter-spacing="0.5">RSTB</text>
</svg>
<div class="wm">www.elecfans.com</div>
<div class="cap" style="left:8.6px;width:300px;top:362px;">二极管整流升压型DC/DC转换器的<br>理想布局示例</div>
<div class="cap" style="left:369px;width:300px;top:362px;">开关晶体管内置<br>同步整流升压型转换器的理想布局示例</div>
</body>
</html>
